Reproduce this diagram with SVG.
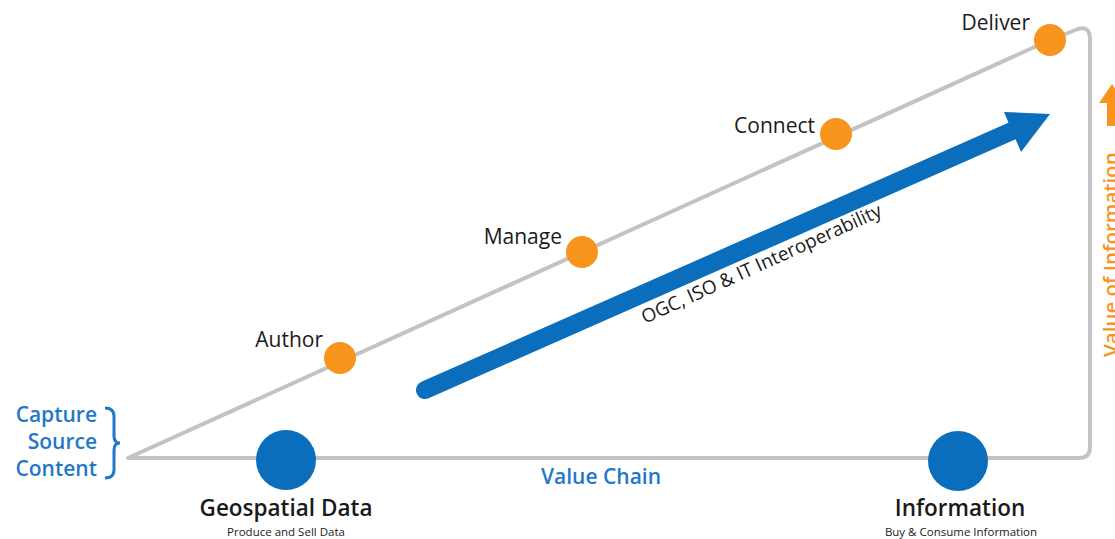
<svg xmlns="http://www.w3.org/2000/svg" width="1115" height="539" viewBox="0 0 1115 539">
<style>
.lbl{font-family:"Open Sans","Liberation Sans",sans-serif;font-size:21px;fill:#1a1a1a}
.blue{font-family:"Open Sans","Liberation Sans",sans-serif;font-size:21px;font-weight:600;fill:#1f78c8}
.big{font-family:"Open Sans","Liberation Sans",sans-serif;font-size:22.5px;font-weight:600;fill:#1a1a1a}
.small{font-family:"Open Sans","Liberation Sans",sans-serif;font-size:11.5px;fill:#1a1a1a}
.orange{fill:#f7941d}
.bdot{fill:#0a6ebd}
</style>
<rect width="1115" height="539" fill="#ffffff"/>
<g id="connectors">
<path d="M128,458 L1050,40 L1078,29 Q1090,25 1090,40 L1090,447 Q1090,458 1079,458 Z" fill="none" stroke="#c3c3c3" stroke-width="4" stroke-linejoin="round"/>
<line x1="425" y1="390" x2="1012" y2="131" stroke="#0a6ebd" stroke-width="18" stroke-linecap="round"/>
<polygon points="1050,114 1021,152 1012,131 1004,112" fill="#0a6ebd"/>
<polygon points="1112,84 1125,103 1117,103 1117,126 1107,126 1107,103 1099,103" fill="#f7941d"/>
</g>
<g id="arrow-label">
<text transform="translate(645,324) rotate(-24.5)" style="font-family:'Open Sans','Liberation Sans',sans-serif;font-size:19px;fill:#1a1a1a">OGC, ISO &amp; IT Interoperability</text>
</g>
<g id="value-of-information">
<text transform="translate(1118,357) rotate(-90)" style="font-family:'Open Sans','Liberation Sans',sans-serif;font-size:20.5px;font-weight:600;fill:#f7941d">Value of Information</text>
</g>
<g id="author"><circle class="orange" cx="340" cy="358" r="16"/><text class="lbl" x="323" y="347" text-anchor="end">Author</text></g>
<g id="manage"><circle class="orange" cx="582" cy="252" r="16"/><text class="lbl" x="562" y="244" text-anchor="end">Manage</text></g>
<g id="connect"><circle class="orange" cx="836" cy="134" r="16"/><text class="lbl" x="815" y="133" text-anchor="end">Connect</text></g>
<g id="deliver"><circle class="orange" cx="1050" cy="40" r="16"/><text class="lbl" x="1030" y="30" text-anchor="end">Deliver</text></g>
<g id="capture">
<text class="blue" text-anchor="end"><tspan x="97" y="422">Capture</tspan><tspan x="97" y="449">Source</tspan><tspan x="97" y="476">Content</tspan></text>
<path d="M105,408 Q114,408 114,416 L114,436 Q114,443 120,443 Q114,443 114,450 L114,470 Q114,478 105,478" fill="none" stroke="#1f78c8" stroke-width="3"/>
</g>
<g id="geospatial"><circle class="bdot" cx="286" cy="460" r="30"/><text class="big" x="286" y="516" text-anchor="middle">Geospatial Data</text><text class="small" x="286" y="536" text-anchor="middle">Produce and Sell Data</text></g>
<g id="information"><circle class="bdot" cx="958" cy="461" r="30"/><text class="big" x="960" y="516" text-anchor="middle">Information</text><text class="small" x="961" y="536" text-anchor="middle">Buy &amp; Consume Information</text></g>
<g id="value-chain"><text class="blue" x="601" y="484" text-anchor="middle">Value Chain</text></g>
</svg>
